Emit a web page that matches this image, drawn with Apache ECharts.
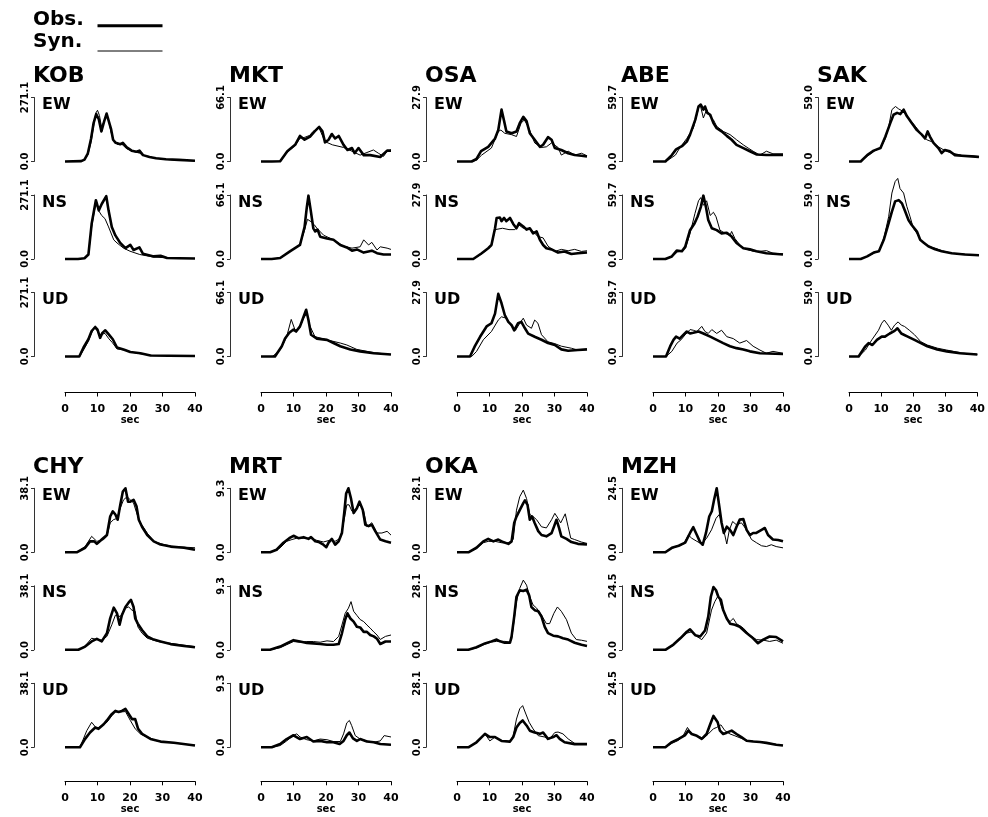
<!DOCTYPE html>
<html><head><meta charset="utf-8">
<script src="https://cdn.jsdelivr.net/npm/echarts/dist/echarts.min.js"></script>
<style>html,body{margin:0;padding:0;background:#fff}#c{width:988px;height:817px}</style>
</head><body><div id="c"></div>
<script>
// ---------------- data ----------------
const stations = ['KOB','MKT','OSA','ABE','SAK','CHY','MRT','OKA','MZH'];
const amplitudes = [271.1, 66.1, 27.9, 59.7, 59.0, 38.1, 9.3, 28.1, 24.5];
const components = ['EW','NS','UD'];
const timeTicks = [0, 10, 20, 30, 40];
const legendNames = ['Obs.', 'Syn.'];

// [time (sec), amplitude]
const KOB_EW_obs = [[0,0],[5,1.4],[6,8],[7,33],[8,95],[8.8,163],[9.6,201],[10.4,179],[11.2,127],[12,168],[12.8,203],[13.4,195],[14.2,136],[14.8,92],[15.6,79],[17,73],[17.8,79],[19,60],[20.5,46],[22,41],[22.9,46],[24,27],[26,19],[28,14],[31,9.5],[35,7],[40,3]];
const KOB_EW_syn = [[0,0],[5,1.4],[6,8],[7,27],[8,81],[8.8,149],[9.5,206],[10,217],[10.6,195],[11.2,149],[11.8,163],[12.6,195],[13.4,176],[14.2,122],[15,89],[16,73],[17.5,73],[19,54],[21,43],[23,35],[25,22],[28,14],[32,8],[36,5],[40,3]];
const KOB_NS_obs = [[0,0],[4,0],[6,3],[7.2,19],[8.2,149],[9.5,249],[10.4,206],[11.3,233],[12.7,266],[13.4,206],[14.4,136],[15.5,100],[17,68],[18.6,46],[20.1,60],[21.1,38],[22.9,49],[24,22],[27.3,11],[29.4,14],[31.4,4],[35,3],[40,2]];
const KOB_NS_syn = [[0,0],[4,0],[6,3],[7.2,16],[8.2,136],[9.5,239],[10.3,206],[11.3,184],[12.3,171],[13.4,136],[15,81],[16,68],[18,46],[20,33],[23,19],[27.3,8],[33,4],[40,2]];
const KOB_UD_obs = [[0,0],[4.4,0],[5.7,38],[7.2,73],[8.2,108],[9.3,125],[10,114],[10.8,79],[11.5,100],[12.4,111],[13.4,95],[14.7,73],[16,38],[18,30],[20.1,19],[23.2,14],[26.3,4],[32,3],[40,2]];
const KOB_UD_syn = [[0,0],[4.5,0],[5.8,30],[7.2,65],[8.2,100],[9,122],[10,108],[10.6,87],[11.5,95],[12.3,98],[13.5,75],[14.5,60],[16,32],[18,28],[20,20],[23,12],[27,4],[40,2]];

const MKT_EW_obs = [[0,0],[3.3,0],[5.9,0.3],[8.1,10.6],[10.5,17.2],[12,26.4],[13.4,22.5],[15.1,25.8],[16.5,31.1],[17.9,35.7],[18.9,31.1],[19.7,19.8],[20.8,22.5],[21.8,28.4],[22.8,23.8],[23.9,26.4],[25.4,17.2],[26.6,11.9],[28,13.9],[28.8,8.6],[30,13.9],[31.6,6.6],[33.6,6.6],[36.7,4.6],[38.8,11.2],[40,11.2]];
const MKT_EW_syn = [[0,0],[3.3,0],[6,0.5],[8,9.3],[10.5,16.5],[12,24],[13.5,25],[15,27],[16,31],[17.9,34.4],[19.7,20.5],[22,17.2],[25.4,14.5],[28,10.6],[30.5,6.6],[32.6,9.3],[34.6,11.9],[36.1,8.6],[37.7,5.3],[38.8,10.6],[40,11.9]];
const MKT_NS_obs = [[0,0],[3.3,0],[5.9,1],[8.9,7.9],[12,14.5],[13.4,33],[14.1,53.5],[14.6,65.4],[15.3,50.2],[16.1,31.7],[16.7,28.4],[17.4,30.4],[18.2,23.1],[20.3,21.2],[22.3,19.8],[24.4,14.5],[26.4,11.9],[28,8.6],[29.5,9.9],[31.6,6.6],[34.1,8.6],[35.7,6],[37.7,4.6],[40,4.6]];
const MKT_NS_syn = [[0,0],[3.3,0],[6,1],[9,8],[12,15],[13.4,29.7],[14.3,41],[15.5,38.3],[16.5,35],[17.2,31.7],[19.3,24.5],[22.3,19.8],[25.4,13.2],[28,11.2],[30.5,12.6],[31.6,19.8],[33.1,14.5],[34.1,17.2],[35.7,9.3],[36.7,12.6],[38.8,11.2],[40,9.9]];
const MKT_UD_obs = [[0,0],[4.3,0],[6.4,10.6],[7.4,18.5],[8.7,24.5],[10,27.8],[10.8,25.8],[12,31.1],[13.1,41],[13.9,48.3],[14.6,37.7],[15.4,22.5],[17.2,18.5],[20.3,17.2],[22.3,13.9],[24.4,10.6],[27.5,7.3],[30.5,5.3],[34.7,3.3],[40,2]];
const MKT_UD_syn = [[0,0],[3.5,0],[5.9,6.6],[7.9,20.5],[9.3,38.3],[10.5,27.1],[11.8,29.1],[13.1,39.7],[14.1,44.3],[15.1,31.1],[16.6,20.5],[20.3,17.2],[24.4,13.9],[26.4,11.9],[29.5,7.3],[34.7,4],[40,2]];

const OSA_EW_obs = [[0,0],[4.5,0],[6,1.1],[7.4,4.5],[9.6,6.4],[11.7,10],[12.7,13.7],[13.7,22.6],[14.5,17.6],[15.2,13.1],[16.8,12.3],[18.3,13.1],[19.3,16.7],[20.4,19.5],[21.4,17.6],[22.4,12.3],[23.9,9.5],[25.5,6.4],[26.5,7.3],[28,10.6],[29.1,9.5],[30.1,5.9],[32.1,5],[34.2,3.6],[36.2,2.8],[38.3,2.5],[40,2.2]];
const OSA_EW_syn = [[0,0],[4.5,0],[6,0.6],[7.6,2.8],[10.6,5.9],[12.7,13.1],[13.5,13.7],[14.7,12.3],[16.8,11.7],[18.3,10.9],[19.7,16.7],[20.7,18.1],[21.9,15.3],[23.9,8.1],[25.9,6.1],[27.5,6.4],[29.1,8.1],[31.1,6.1],[32.1,2.8],[34.2,4.5],[36.2,2.8],[38.3,3.6],[40,2.5]];
const OSA_NS_obs = [[0,0],[5,0],[7.6,2.5],[9.6,4.7],[10.6,6.1],[11.7,13.4],[12.2,17.9],[13.2,18.1],[13.7,16.5],[14.5,17.9],[15.2,16.5],[16.3,17.9],[17.3,15.3],[18.3,13.4],[19.1,15.6],[20.4,14.2],[21.4,12.8],[22.4,13.4],[23.4,11.2],[24.5,12],[25.5,8.4],[26.5,6.1],[27.5,4.7],[29.1,4.2],[31.1,2.8],[33.1,3.3],[35.2,2.2],[37.2,2.5],[40,2.8]];
const OSA_NS_syn = [[0,0],[5,0],[7.6,2.2],[9.6,4.5],[10.6,5.9],[11.7,12.8],[12.2,13.4],[14,13.4],[16,12.8],[17.8,12.8],[19.1,14.8],[20.4,13.4],[21.9,13.4],[23.4,12],[24.9,9.8],[26.5,9.2],[28,5.6],[30.1,3.3],[32.1,4.2],[34.2,3.6],[36.2,4.2],[38.3,3.3],[40,3.6]];
const OSA_UD_obs = [[0,0],[4,0],[5.5,4.5],[7.1,8.6],[9.1,13.1],[10.6,14.5],[11.7,18.7],[12.7,27.3],[13.7,23.2],[14.7,18.1],[15.8,15.1],[16.8,13.7],[17.6,11.4],[18.8,14.5],[19.8,15.1],[20.9,12.3],[21.9,10],[23.9,8.6],[26,7.3],[28,5.9],[30.1,5],[32.1,3.1],[34.2,2.5],[37.2,2.8],[40,3.1]];
const OSA_UD_syn = [[0,0],[4.5,0],[6,2.2],[8.1,7.3],[10.6,10.9],[12.7,15.9],[13.7,17.3],[15.2,16.7],[16.8,13.1],[18,11.4],[19.3,14.5],[20.4,16.7],[21.4,13.7],[22.9,12.3],[23.9,15.9],[24.9,14.5],[26,9.5],[28,6.4],[30.1,5.6],[32.1,4.5],[35.2,3.6],[37.2,2.8],[40,3.1]];

const ABE_EW_obs = [[0,0],[3.8,0],[5.8,6],[7.1,11.3],[8.9,14.3],[10.4,18.5],[11.4,25.1],[13,38.8],[14,51.3],[14.7,53.1],[15.5,48.4],[16,51.3],[16.7,45.4],[17.6,43.6],[18.6,35.8],[19.6,31],[21.1,28.1],[22.7,23.9],[24.2,20.3],[25.7,15.5],[27.8,12.5],[29.8,9.6],[31.8,6.6],[34.9,6],[40,6]];
const ABE_EW_syn = [[0,0],[4,0],[6.9,6],[8.2,12.5],[10.4,21.5],[12.4,31],[14,49.6],[14.5,53.1],[15.5,40.6],[16.5,48.4],[17,49.6],[17.6,41.8],[18.6,38.8],[19.6,32.8],[21.6,28.1],[23.7,25.1],[25.7,20.3],[27.8,15.5],[29.3,12.5],[30.8,9.6],[32.9,6],[34.9,9.6],[36.9,7.2],[40,7.2]];
const ABE_NS_obs = [[0,0],[3.8,0],[5.8,2.4],[7.3,7.8],[8.9,7.2],[9.9,11.3],[11.4,26.9],[12.7,32.8],[13.7,39.4],[14.7,48.4],[15.5,59.1],[16.3,48.4],[17,36.4],[18.1,28.7],[19.6,26.9],[21.1,23.9],[22.7,24.5],[24.2,20.9],[25.7,14.9],[27.8,10.1],[29.8,9],[31.8,7.2],[34.9,5.4],[40,4.2]];
const ABE_NS_syn = [[0,0],[4,0],[6,2.4],[7.5,6.6],[9,7.8],[10,10.1],[11.4,23.9],[12.9,42.4],[14,54.3],[14.7,57.3],[15.5,50.1],[16.5,54.3],[17.6,40.6],[18.6,43.6],[19.4,39.4],[20.6,26.9],[22.2,23.9],[23.7,22.1],[24.2,25.7],[25.2,19.1],[27.2,11.3],[28.8,9],[30.8,7.2],[32.9,7.2],[34.9,7.8],[36.9,5.4],[40,4.8]];
const ABE_UD_obs = [[0,0],[4,0],[5.3,9.6],[6.3,15.5],[7.1,18.5],[8.2,16.7],[9.4,20.3],[10.4,23.3],[11.4,21.5],[12.4,22.1],[14,23.3],[15.5,21.5],[17.6,18.5],[19.6,15.5],[21.6,12.5],[23.7,9.6],[25.7,7.8],[27.8,6.6],[29.8,4.8],[32.9,3],[40,2.4]];
const ABE_UD_syn = [[0,0],[4,0],[5.8,4.8],[7.4,12.5],[8.6,15.5],[9.9,20.3],[11.4,25.1],[12.4,24.5],[13.5,23.3],[15,28.1],[16,23.3],[17,21.5],[18.1,25.1],[19.6,21.5],[21.1,24.5],[22.7,18.5],[24.7,16.7],[26.7,12.5],[28.8,14.9],[30.8,9.6],[32.9,6],[34.9,3],[36.9,4.8],[40,3]];

const SAK_EW_obs = [[0,0],[3.6,0],[5.6,5.9],[7.6,10],[9.7,12.4],[11.2,23],[12.7,35.4],[13.7,43.1],[14.8,44.8],[15.8,43.7],[16.8,47.8],[17.8,41.9],[19.3,35.4],[20.9,28.9],[22.4,24.8],[23.4,21.2],[24.2,27.7],[24.9,23],[26,17.1],[27.5,12.4],[28.5,7.7],[29.5,10.6],[31,9.4],[32.6,5.9],[34.6,5.3],[37.7,4.7],[40,4.1]];
const SAK_EW_syn = [[0,0],[3.6,0],[5.6,4.7],[7.6,9.4],[9.7,12.4],[11.2,21.2],[12.2,31.9],[13.2,47.8],[14.3,50.7],[15.3,48.4],[16.8,46],[18.3,40.1],[20.4,32.5],[22.4,24.8],[23.9,20.1],[25.4,18.3],[27.5,13.6],[29.5,10],[31.6,7.7],[34.6,5.9],[40,4.7]];
const SAK_NS_obs = [[0,0],[3.6,0],[5.6,2.4],[7.6,5.9],[9.2,7.1],[10.7,17.7],[12.2,33],[13.2,43.7],[14.2,53.1],[15.3,54.3],[16.3,51.3],[17.3,43.7],[18.3,36],[19.3,31.3],[19.8,33],[20.9,25.4],[21.9,17.7],[22.9,15.3],[24.4,11.8],[26.5,8.9],[28.5,7.1],[31.6,5.3],[35.6,4.1],[40,3.5]];
const SAK_NS_syn = [[0,0],[3.6,0],[5.6,2.4],[7.6,5.3],[9.2,7.1],[10.7,18.9],[12.2,38.9],[13.2,60.8],[14.2,71.4],[15,74.3],[15.7,64.9],[16.8,60.8],[17.8,48.4],[18.8,38.9],[19.8,28.3],[20.9,23.6],[22.4,15.9],[24.4,11.8],[26.5,10],[28.5,7.7],[31.6,5.3],[40,3.5]];
const SAK_UD_obs = [[0,0],[3,0],[5.1,9.4],[6.1,12.4],[7.3,10.6],[8.7,15.3],[10.2,18.3],[11.2,18.3],[12.7,21.2],[14.2,23.6],[15.1,26],[16.3,21.2],[18.3,18.3],[20.4,15.3],[22.4,12.4],[24.4,9.4],[27.5,6.5],[30.5,4.7],[34.6,3],[40,1.8]];
const SAK_UD_syn = [[0,0],[3,0],[5.1,5.9],[7.1,15.3],[9.2,24.2],[10.2,30.7],[11,33.6],[12.2,28.9],[13.2,24.2],[14.2,28.9],[15.3,31.9],[16.3,28.9],[17.3,27.7],[18.8,24.2],[20.4,20.1],[22.4,13.6],[24.4,10.6],[27.5,7.7],[30.5,5.9],[32.6,4.7],[35.6,3],[40,1.8]];

const CHY_EW_obs = [[0,0],[3.6,0],[6.2,2.7],[7.7,6.5],[9,6.5],[9.8,5],[11.3,7.6],[12.9,10.3],[13.9,21.3],[14.7,24.4],[15.5,22.5],[16.2,19.4],[17,28.2],[17.8,36.2],[18.6,38.1],[19.4,30.1],[20.1,30.1],[21.1,31.2],[22,27.4],[22.7,19.4],[23.7,15.2],[25.3,10.3],[27.3,6.5],[29.4,4.6],[32.5,3.4],[36.6,2.7],[40,1.5]];
const CHY_EW_syn = [[0,0],[3.6,0],[6.2,3.4],[8.2,9.5],[9.8,6.5],[11.9,7.6],[12.9,9.5],[13.9,17.5],[14.9,19.4],[16,20.2],[17,26.3],[18,31.2],[19.1,33.1],[20.1,31.2],[21.1,29.3],[22.2,22.5],[23.2,17.5],[25.3,11.4],[27.3,6.5],[30.4,4.6],[33.5,3.4],[40,2.7]];
const CHY_NS_obs = [[0,0],[4.1,0],[6.2,1.9],[8.2,5],[9.8,6.5],[11.3,5],[12.9,9.9],[13.9,18.7],[15,25.1],[16,21.7],[16.8,14.9],[17.5,20.6],[18.6,25.5],[19.6,28.2],[20.3,29.7],[21.1,25.5],[21.6,18.7],[22.4,15.6],[23.7,11.8],[25.3,8],[27.3,6.1],[29.4,5],[32.5,3.4],[36.6,2.3],[40,1.5]];
const CHY_NS_syn = [[0,0],[4.1,0],[6.2,2.3],[8.2,6.9],[9.8,6.1],[11.3,5.7],[12.9,8],[14.4,14.9],[15.5,20.6],[17,19.8],[18.6,24.8],[19.6,25.5],[20.6,23.6],[21.6,22.9],[22.4,13.7],[23.7,9.9],[25.3,6.9],[27.3,5.7],[29.4,4.6],[40,1.9]];
const CHY_UD_obs = [[0,0],[4.6,0],[6.2,5],[7.7,8.8],[9.3,11.8],[10.3,11],[11.9,13.7],[12.9,16],[14.2,19.4],[15.5,21.7],[16.5,21],[17.5,21.7],[18.6,22.9],[19.6,19.8],[20.6,16.8],[21.6,16.8],[22.5,11],[23.7,8],[26.3,5],[29.4,3.4],[33.5,2.7],[40,1.1]];
const CHY_UD_syn = [[0,0],[4.6,0],[6.7,9.9],[8.2,14.9],[9.8,11],[11.3,13],[12.9,14.9],[14.4,18.7],[15.5,21],[17,21],[18.6,21.3],[20.1,16],[21.6,11],[23.2,8],[25.3,6.1],[28.4,3.8],[40,1.1]];

const MRT_EW_obs = [[0,0],[2.8,0],[4.8,0.37],[6.9,1.4],[8.7,2.05],[10,2.4],[11.5,2.05],[13.1,2.2],[14.6,1.95],[15.4,2.2],[16.7,1.6],[17.7,1.5],[19.2,1.1],[20.1,0.75],[20.8,1.4],[21.8,1.95],[22.8,1.1],[23.9,1.6],[24.9,2.8],[25.6,5.7],[26.2,8.55],[26.9,9.3],[27.7,7.8],[28.5,5.7],[29.5,6.4],[30.3,7.35],[31.3,6.2],[32.1,4],[33.1,3.8],[34.1,4],[35.2,3.05],[36.7,1.85],[38.3,1.6],[40,1.4]];
const MRT_EW_syn = [[0,0],[2.8,0],[5.9,0.65],[7.9,1.6],[9.5,1.85],[11,2.05],[13.1,2.05],[15.1,2.05],[17.1,1.75],[19.2,1.5],[21.2,1.75],[22.8,1.6],[24.4,2.05],[25.6,4.75],[26.4,6.9],[27.1,6.9],[28,5.95],[29,6.15],[30.3,7.15],[31.6,5.95],[32.6,3.7],[34.1,4.3],[35.7,2.8],[37.2,2.8],[38.8,3.05],[40,2.5]];
const MRT_NS_obs = [[0,0],[2.8,0],[5.9,0.47],[7.9,0.93],[10,1.4],[12,1.2],[14.1,1],[16.1,0.93],[18.2,0.84],[20.3,0.74],[22.3,0.74],[23.9,0.84],[24.9,2.4],[25.9,4.4],[26.6,5.3],[27.5,4.55],[28.5,4.1],[29.5,3.35],[30.5,3.25],[31.6,2.6],[32.6,2.6],[33.6,2.15],[34.7,1.95],[35.7,1.6],[36.7,0.84],[38.3,1.2],[40,1.2]];
const MRT_NS_syn = [[0,0],[2.8,0],[5.9,0.3],[7.9,0.74],[10,1.2],[12,1.1],[14.1,1.2],[16.1,1.2],[18.2,1.1],[20.3,1.3],[22.3,1.2],[23.9,1.95],[24.9,3.6],[25.9,5.3],[26.9,6.05],[27.7,7],[28.5,5.6],[29.5,5],[30.5,4.4],[31.6,4.1],[32.6,3.6],[33.6,3.15],[34.7,2.6],[35.7,2.15],[36.7,1.5],[38.3,1.95],[40,2.15]];
const MRT_UD_obs = [[0,0],[3.3,0],[5.9,0.47],[7.9,1.2],[10,1.75],[12,1.2],[14.1,1.5],[16.1,0.84],[18.2,0.93],[20.3,0.74],[22.3,0.74],[24.2,0.47],[25.4,0.93],[26.4,1.75],[27.2,2.15],[28.3,1.3],[29.5,0.93],[30.5,1.2],[32.6,0.84],[34.7,0.74],[36.7,0.47],[40,0.37]];
const MRT_UD_syn = [[0,0],[3.3,0],[5.9,0.25],[7.9,0.93],[10,1.75],[11,1.95],[12,1.5],[14.1,1.1],[16.1,0.93],[18.2,1.2],[20.3,1.1],[22.3,0.84],[24.4,0.84],[25.4,1.95],[26.4,3.55],[27.2,3.9],[27.9,3.15],[29,1.7],[30.5,1.2],[32.6,0.93],[34.7,0.74],[36.7,0.93],[37.9,1.7],[40,1.5]];

const OKA_EW_obs = [[0,0],[3.5,0],[6,2],[8.1,4.8],[9.6,5.9],[11.2,4.8],[12.7,5.6],[14.2,4.5],[15.8,3.7],[16.8,4.8],[17.6,12.9],[18.3,15.7],[19.3,18.5],[20.4,21.6],[20.9,22.8],[21.7,20.8],[22.4,14.3],[23.1,15.7],[23.9,12.9],[25,9.3],[26,7.6],[27.5,7],[29.1,8.4],[29.9,11.5],[30.6,14.3],[31.4,10.7],[32.1,7],[33.7,5.9],[35.2,4.5],[37.2,3.7],[40,3.4]];
const OKA_EW_syn = [[0,0],[3.5,0],[6,1.7],[8.1,4.2],[9.6,4.8],[11.7,4.8],[13.7,4.2],[16.3,4.2],[17.3,5.6],[18.3,18.5],[19.3,24.4],[20.4,27.3],[21.4,23.6],[22.4,16.6],[23.4,15.7],[24.5,14.3],[26,11.2],[27.5,10.7],[29.1,14.3],[30.1,17.1],[31.1,14.9],[31.9,12.9],[32.6,14.9],[33.3,16.9],[34.2,11.2],[35,6.2],[36.2,5.6],[38.3,4.5],[40,3.9]];
const OKA_NS_obs = [[0,0],[3.5,0],[6,1.1],[8.6,2.8],[10.6,3.7],[12.2,4.5],[13.2,3.7],[14.7,3.1],[16.3,3.1],[16.8,5.9],[17.6,14.6],[18.3,23.3],[19.3,26.1],[20.4,25.8],[21.4,26.4],[22.2,23.9],[22.9,18.8],[23.9,17.4],[25,16.9],[26,14.6],[27,10.1],[28,7.3],[29.6,6.2],[31.1,5.9],[32.6,5.1],[34.2,4.5],[36.2,3.1],[38.3,2.2],[40,1.7]];
const OKA_NS_syn = [[0,0],[3.5,0],[6,0.8],[8.6,2.5],[10.6,3.4],[12.2,3.7],[14.7,3.7],[16.3,3.4],[16.8,4.5],[17.6,13.2],[18.3,21.1],[19.3,27],[20.4,30.6],[21.4,28.4],[22.4,23.3],[23.4,19.7],[24.5,18.3],[26,15.2],[27.5,11.5],[28.5,11.5],[29.8,16],[30.9,18.8],[32.1,16.9],[33.7,13.2],[35.2,7.3],[36.7,4.5],[38.3,4.2],[40,3.7]];
const OKA_UD_obs = [[0,0],[3.5,0],[6,2.2],[7.6,4.5],[8.6,5.9],[10.1,4.5],[11.7,4.5],[13.7,2.8],[16.3,2.5],[17.3,4.5],[18.3,8.7],[19.3,10.7],[20.2,11.8],[21.4,9.6],[22.4,7.3],[23.9,6.5],[25.5,5.9],[26.5,6.5],[28,3.7],[29.6,4.5],[30.6,5.3],[31.6,3.7],[33.1,2.2],[36.2,1.4],[40,1.4]];
const OKA_UD_syn = [[0,0],[3.5,0],[6,2],[7.6,4.5],[8.6,5.9],[10.1,2.8],[11.7,4.5],[13.7,2.8],[16.3,2.5],[17.3,5.1],[18.3,12.4],[19.3,16.9],[20.2,18.3],[21.2,14.6],[22.2,11],[23.4,8.1],[25,5.1],[27,4.5],[28.5,3.7],[30.1,6.5],[31.1,6.7],[32.6,5.9],[34.2,3.7],[36.2,1.7],[40,1.4]];

const MZH_EW_obs = [[0,0],[3.8,0],[5.8,1.7],[7.9,2.5],[9.9,3.7],[11.4,7.4],[12.4,9.6],[13.5,6.6],[14.5,3.9],[15.3,2.9],[16.3,7.4],[17.3,13.7],[18.1,15.7],[18.8,20.1],[19.6,24.5],[20.4,17.6],[21.1,11.3],[21.8,7.4],[22.7,9.8],[23.7,8.6],[24.7,6.6],[25.7,9.8],[26.7,12.5],[27.8,12.7],[28.8,8.6],[29.8,6.6],[30.8,7.4],[31.8,7.4],[33.4,8.6],[34.4,9.3],[35.4,6.6],[36.9,4.9],[38.5,4.7],[40,4.2]];
const MZH_EW_syn = [[0,0],[3.8,0],[5.8,1.5],[7.9,2.5],[9.4,3.2],[10.9,6.6],[11.9,5.4],[13.5,4.2],[15,3.2],[16.5,5.4],[18,8.6],[19.4,13],[20.4,14.5],[21.4,9.8],[22.1,6.6],[22.7,3.2],[23.5,8.6],[24.5,11.8],[25.7,10.5],[27.2,11.3],[28.8,8.6],[30.3,4.9],[31.8,3.7],[33.4,2.5],[34.9,2.2],[36.4,2.9],[37.9,2.2],[40,1.7]];
const MZH_NS_obs = [[0,0],[3.8,0],[6.3,2],[8.4,4.4],[10.4,6.9],[11.4,7.8],[13,5.6],[14.5,5.1],[16,7.4],[17,12.7],[17.8,20.3],[18.6,24],[19.4,22.8],[20.1,20.3],[20.9,19.1],[21.6,15.2],[22.7,12],[23.7,10],[25.2,9.6],[26.7,8.8],[28.8,6.4],[30.8,4.4],[32.3,2.5],[33.9,3.9],[35.9,5.1],[37.9,4.9],[40,3.2]];
const MZH_NS_syn = [[0,0],[3.8,0],[6.3,1.7],[8.4,4.2],[10.4,6.4],[12,6.9],[13.5,5.1],[15,3.9],[16.5,6.4],[18,15.2],[19,18.4],[20.1,20.8],[21.1,16.4],[22.7,12],[23.7,10.8],[24.7,12],[25.7,10],[27.8,8.3],[29.8,5.6],[31.8,3.9],[33.9,3.7],[35.9,3.2],[37.9,3.7],[40,2.5]];
const MZH_UD_obs = [[0,0],[3.8,0],[5.8,2],[7.9,3.2],[9.9,4.7],[10.9,6.4],[11.9,5.1],[13.5,4.4],[15,3.2],[16.5,5.1],[17.6,8.8],[18.6,12],[19.1,12.7],[19.9,9.6],[20.6,6.4],[21.6,5.1],[22.7,5.6],[24.2,6.4],[25.7,5.1],[27.2,3.9],[28.8,2.5],[30.8,2.2],[32.9,2],[34.9,1.7],[37.9,1],[40,0.7]];
const MZH_UD_syn = [[0,0],[3.8,0],[5.8,1.5],[7.9,2.7],[9.4,4.7],[10.6,7.6],[11.9,5.1],[13.5,4.4],[15.5,3.4],[17,5.1],[18.6,7.1],[19.6,7.6],[20.9,8.6],[22.1,6.4],[23.7,5.1],[25.2,4.4],[27.2,3.4],[29.3,2.5],[31.8,2.2],[35.9,1.5],[40,0.7]];

const traces = {
  KOB: {EW: [KOB_EW_obs, KOB_EW_syn], NS: [KOB_NS_obs, KOB_NS_syn], UD: [KOB_UD_obs, KOB_UD_syn]},
  MKT: {EW: [MKT_EW_obs, MKT_EW_syn], NS: [MKT_NS_obs, MKT_NS_syn], UD: [MKT_UD_obs, MKT_UD_syn]},
  OSA: {EW: [OSA_EW_obs, OSA_EW_syn], NS: [OSA_NS_obs, OSA_NS_syn], UD: [OSA_UD_obs, OSA_UD_syn]},
  ABE: {EW: [ABE_EW_obs, ABE_EW_syn], NS: [ABE_NS_obs, ABE_NS_syn], UD: [ABE_UD_obs, ABE_UD_syn]},
  SAK: {EW: [SAK_EW_obs, SAK_EW_syn], NS: [SAK_NS_obs, SAK_NS_syn], UD: [SAK_UD_obs, SAK_UD_syn]},
  CHY: {EW: [CHY_EW_obs, CHY_EW_syn], NS: [CHY_NS_obs, CHY_NS_syn], UD: [CHY_UD_obs, CHY_UD_syn]},
  MRT: {EW: [MRT_EW_obs, MRT_EW_syn], NS: [MRT_NS_obs, MRT_NS_syn], UD: [MRT_UD_obs, MRT_UD_syn]},
  OKA: {EW: [OKA_EW_obs, OKA_EW_syn], NS: [OKA_NS_obs, OKA_NS_syn], UD: [OKA_UD_obs, OKA_UD_syn]},
  MZH: {EW: [MZH_EW_obs, MZH_EW_syn], NS: [MZH_NS_obs, MZH_NS_syn], UD: [MZH_UD_obs, MZH_UD_syn]}
};

// ---------------- layout ----------------
const FONT = '"DejaVu Sans", "Liberation Sans", sans-serif';
const colX = [65, 261, 457, 653, 849];
const sectionTop = [97.5, 488.3];
const xAxisOffset = [36, 34];
const rowStep = 97.5, panelH = 64, panelW = 130;
const OBS_W = 2.6, SYN_W = 1;

const grids = [], xAxes = [], yAxes = [], series = [], titles = [];
stations.forEach((st, i) => {
  const sec = i < 5 ? 0 : 1;
  const col = i < 5 ? i : i - 5;
  const x0 = colX[col];
  const top0 = sectionTop[sec];
  titles.push({text: st, left: x0 - 32, top: top0 - 32.5, padding: 0,
    textStyle: {fontFamily: FONT, fontWeight: 'bold', fontSize: 22, color: '#000'}});
  components.forEach((cp, j) => {
    const g = i * 3 + j;
    const top = top0 + j * rowStep;
    grids.push({left: x0, top: top, width: panelW, height: panelH});
    titles.push({text: cp, left: x0 - 23, top: top - 0.5, padding: 0,
      textStyle: {fontFamily: FONT, fontWeight: 'bold', fontSize: 16, color: '#000'}});
    const showX = j === 2;
    xAxes.push({
      gridIndex: g, type: 'value', min: timeTicks[0], max: timeTicks[timeTicks.length - 1], interval: 10,
      show: showX, offset: xAxisOffset[sec], position: 'bottom',
      axisLine: {show: true, onZero: false, lineStyle: {color: '#000', width: 1}},
      axisTick: {show: true, length: 4, lineStyle: {color: '#000', width: 1}},
      axisLabel: {show: true, margin: 11, fontFamily: FONT, fontWeight: 'bold', fontSize: 11, color: '#000'},
      splitLine: {show: false},
      name: showX ? 'sec' : '', nameLocation: 'middle', nameGap: 20,
      nameTextStyle: {fontFamily: FONT, fontWeight: 'bold', fontSize: 10, color: '#000'}
    });
    yAxes.push({
      gridIndex: g, type: 'value', min: 0, max: amplitudes[i], interval: amplitudes[i],
      offset: 31, position: 'left',
      axisLine: {show: true, onZero: false, lineStyle: {color: '#333', width: 1}},
      axisTick: {show: true, length: 3, lineStyle: {color: '#333', width: 1}},
      axisLabel: {show: true, rotate: 90, margin: 4, fontFamily: FONT, fontWeight: 'bold', fontSize: 10, color: '#000',
        formatter: v => Number(v).toFixed(1)},
      splitLine: {show: false}
    });
    const pair = traces[st][cp];
    series.push({
      name: legendNames[1], type: 'line', xAxisIndex: g, yAxisIndex: g, data: pair[1],
      showSymbol: false, symbol: 'none', clip: false, silent: true, z: 2,
      lineStyle: {color: '#000', width: SYN_W}, itemStyle: {color: '#000'}
    });
    series.push({
      name: legendNames[0], type: 'line', xAxisIndex: g, yAxisIndex: g, data: pair[0],
      showSymbol: false, symbol: 'none', clip: false, silent: true, z: 3,
      lineStyle: {color: '#000', width: OBS_W, join: 'round'}, itemStyle: {color: '#000'}
    });
  });
});

const chart = echarts.init(document.getElementById('c'), null, {renderer: 'canvas'});
chart.setOption({
  backgroundColor: '#fff',
  animation: false,
  title: titles,
  grid: grids,
  xAxis: xAxes,
  yAxis: yAxes,
  series: series,
  graphic: [
    {type: 'text', x: 33, y: 20, style: {text: legendNames[0], font: 'bold 20px ' + FONT, fill: '#000', verticalAlign: 'middle', textVerticalAlign: 'middle'}},
    {type: 'line', shape: {x1: 97.5, y1: 25.8, x2: 162.5, y2: 25.8}, style: {stroke: '#000', lineWidth: 3}},
    {type: 'text', x: 33, y: 41.3, style: {text: legendNames[1], font: 'bold 20px ' + FONT, fill: '#000', verticalAlign: 'middle', textVerticalAlign: 'middle'}},
    {type: 'line', shape: {x1: 97.5, y1: 51, x2: 162.5, y2: 51}, style: {stroke: '#000', lineWidth: 1}}
  ]
});
</script>
</body></html>
